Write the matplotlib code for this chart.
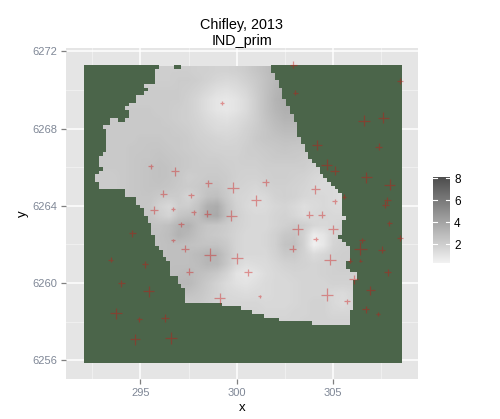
import numpy as np
import matplotlib
matplotlib.use('Agg')
import matplotlib.pyplot as plt
from matplotlib.colors import LinearSegmentedColormap, ListedColormap

plt.rcParams['font.family'] = ['Liberation Sans', 'DejaVu Sans']

# --- stations: position and size of each cross ---
pt_x = [299.21, 295.54, 296.77, 298.53, 299.81, 296.19, 297.62, 295.70, 296.70, 302.94,
        308.45, 303.03, 306.60, 307.60, 304.17, 307.36, 304.66, 305.07, 306.72, 307.93,
        301.49, 304.07, 305.56, 300.99, 305.07, 307.81, 307.70, 297.77, 298.48, 299.71,
        294.58, 297.10, 296.70, 297.31, 298.60, 300.01, 293.46, 295.24, 297.53, 294.01,
        295.42, 299.12, 293.75, 294.95, 296.28, 296.58, 294.72, 303.77, 304.40, 307.91,
        303.15, 304.99, 304.09, 306.51, 308.45, 302.89, 306.41, 307.51, 304.83, 305.85,
        306.41, 300.58, 307.82, 306.06, 306.93, 304.66, 305.72, 301.18, 306.68, 307.33]
pt_y = [6269.35, 6266.04, 6265.78, 6265.16, 6264.95, 6264.64, 6264.54, 6263.81, 6263.86, 6271.31,
        6270.48, 6269.86, 6268.42, 6268.57, 6267.17, 6267.07, 6266.14, 6265.83, 6265.47, 6265.10,
        6265.21, 6264.85, 6264.48, 6264.28, 6264.24, 6264.28, 6264.07, 6263.66, 6263.60, 6263.50,
        6262.57, 6263.04, 6262.21, 6261.79, 6261.48, 6261.28, 6261.22, 6260.97, 6260.60, 6259.98,
        6259.57, 6259.21, 6258.43, 6258.12, 6258.17, 6257.14, 6257.09, 6263.55, 6263.55, 6263.09,
        6262.78, 6262.78, 6262.27, 6262.21, 6262.36, 6261.79, 6261.79, 6261.74, 6261.22, 6261.17,
        6261.17, 6260.55, 6260.55, 6260.19, 6259.62, 6259.41, 6259.05, 6259.31, 6258.64, 6258.40]
pt_size = [1, 1.3, 2, 1.8, 2.8, 1.8, 1.3, 2, 1, 1.8,
           1.4, 1.3, 2.8, 2.8, 2.5, 1.8, 2.8, 2.4, 2.6, 2.8,
           1.8, 2.3, 1.2, 2.6, 1.2, 1.8, 1.8, 1.3, 1.8, 2.8,
           1.7, 1.3, 0.9, 1.8, 3, 2.8, 1.3, 1.6, 1.8, 1.7,
           2.7, 2.8, 2.9, 1.4, 2, 3, 2.7, 1.8, 1.8, 1.3,
           2.8, 2.3, 1.1, 1.4, 1.5, 1.8, 3.2, 1.6, 2.8, 1,
           0.8, 1.8, 1.6, 2.2, 2.2, 3, 1.3, 0.9, 1.6, 0.9]

# --- surface values (tenths) read on a 0.5 unit grid, x 292.5 to 306.5, y 6271 down to 6258 ---
surface_tenths = [
    [20, 20, 20, 20, 20, 20, 20, 20, 20, 20, 20, 19, 19, 18, 18, 19, 21, 24, 27, 30, 32, 32, 32, 32, 32, 32, 32, 32, 32],
    [20, 20, 20, 20, 20, 20, 20, 20, 20, 21, 21, 20, 18, 16, 15, 16, 19, 22, 26, 30, 33, 33, 33, 33, 33, 33, 33, 33, 33],
    [21, 21, 21, 21, 21, 21, 21, 21, 21, 21, 20, 18, 15, 12, 11, 13, 16, 21, 26, 31, 34, 34, 34, 34, 34, 34, 34, 34, 34],
    [21, 21, 21, 21, 21, 21, 21, 21, 21, 21, 19, 16, 12, 9, 8, 10, 14, 20, 26, 32, 35, 35, 35, 34, 34, 34, 34, 34, 34],
    [22, 22, 22, 22, 22, 22, 22, 21, 21, 20, 19, 16, 12, 9, 8, 10, 14, 20, 26, 31, 34, 34, 33, 32, 32, 32, 32, 32, 32],
    [22, 22, 22, 22, 22, 22, 22, 22, 21, 20, 19, 17, 14, 12, 11, 13, 16, 20, 25, 29, 32, 32, 31, 30, 30, 30, 30, 30, 30],
    [22, 22, 22, 22, 22, 22, 22, 22, 22, 21, 20, 18, 16, 14, 14, 15, 18, 21, 24, 27, 29, 29, 28, 28, 27, 27, 27, 27, 27],
    [22, 22, 22, 22, 22, 23, 23, 23, 22, 22, 21, 19, 18, 17, 16, 17, 19, 22, 24, 25, 26, 26, 25, 24, 23, 23, 23, 23, 23],
    [22, 22, 22, 22, 23, 23, 24, 24, 23, 22, 21, 20, 19, 18, 18, 18, 20, 21, 22, 23, 24, 23, 23, 22, 20, 20, 20, 20, 20],
    [22, 22, 22, 22, 23, 24, 24, 25, 24, 23, 22, 21, 20, 20, 19, 19, 20, 20, 21, 22, 22, 22, 21, 20, 19, 19, 19, 19, 19],
    [22, 22, 22, 22, 23, 24, 25, 26, 25, 23, 22, 21, 21, 21, 20, 19, 19, 19, 20, 20, 20, 20, 20, 18, 17, 17, 17, 17, 17],
    [21, 21, 21, 22, 23, 24, 25, 26, 25, 23, 20, 21, 22, 22, 21, 19, 18, 18, 19, 20, 20, 19, 18, 16, 15, 15, 15, 15, 15],
    [21, 21, 21, 22, 23, 24, 25, 25, 24, 22, 21, 22, 24, 24, 21, 18, 17, 16, 18, 19, 19, 18, 17, 15, 14, 14, 13, 13, 13],
    [21, 21, 21, 22, 23, 24, 24, 22, 21, 21, 17, 21, 26, 27, 22, 17, 16, 14, 15, 18, 19, 18, 16, 15, 15, 14, 12, 13, 14],
    [22, 22, 22, 22, 23, 24, 23, 18, 15, 20, 20, 25, 34, 36, 25, 18, 15, 13, 14, 16, 17, 15, 12, 14, 15, 14, 13, 14, 16],
    [22, 22, 22, 22, 23, 24, 24, 20, 17, 24, 26, 27, 36, 37, 26, 19, 16, 15, 15, 17, 18, 16, 13, 15, 16, 15, 15, 16, 18],
    [23, 23, 23, 23, 23, 24, 25, 25, 27, 32, 33, 27, 24, 23, 21, 18, 16, 15, 15, 17, 19, 21, 20, 16, 15, 16, 17, 18, 20],
    [25, 25, 25, 25, 25, 25, 26, 26, 28, 33, 30, 26, 23, 22, 20, 17, 15, 15, 16, 19, 23, 24, 18, 6, 9, 16, 18, 19, 20],
    [26, 26, 26, 26, 26, 26, 26, 26, 27, 27, 26, 25, 25, 25, 22, 17, 15, 15, 16, 19, 25, 26, 18, 4, 8, 17, 19, 20, 20],
    [26, 26, 26, 26, 26, 26, 26, 26, 27, 27, 27, 29, 32, 31, 24, 17, 15, 15, 15, 18, 22, 22, 18, 14, 16, 19, 20, 20, 21],
    [27, 27, 27, 27, 27, 27, 27, 27, 27, 27, 27, 28, 31, 30, 23, 15, 12, 13, 14, 16, 18, 19, 18, 17, 18, 19, 20, 20, 20],
    [27, 27, 27, 27, 27, 27, 27, 27, 27, 28, 29, 27, 25, 22, 17, 10, 8, 10, 13, 15, 16, 17, 17, 17, 18, 19, 19, 19, 19],
    [26, 26, 26, 26, 26, 26, 26, 26, 27, 30, 30, 26, 22, 18, 14, 11, 10, 12, 14, 15, 15, 16, 17, 17, 17, 18, 18, 18, 18],
    [24, 24, 24, 24, 24, 24, 24, 24, 25, 27, 26, 24, 21, 18, 15, 14, 13, 14, 14, 15, 15, 16, 17, 17, 17, 15, 14, 16, 17],
    [22, 22, 22, 22, 22, 22, 22, 22, 22, 22, 22, 22, 20, 18, 16, 16, 16, 16, 15, 15, 15, 16, 17, 18, 18, 15, 13, 16, 17],
    [20, 20, 20, 20, 20, 20, 20, 20, 20, 20, 20, 20, 19, 18, 17, 17, 17, 17, 16, 16, 16, 17, 17, 18, 18, 16, 16, 16, 17],
    [19, 19, 19, 19, 19, 19, 19, 19, 19, 19, 19, 19, 18, 18, 17, 17, 17, 17, 17, 17, 17, 17, 18, 18, 18, 18, 18, 18, 18],
]
grid_x = (292.5, 306.5)
grid_y = (6258.0, 6271.0)

# --- outside-area mask: raster is 85 x 79 cells, rows from the top ---
n_cols = 85
n_rows = 79
raster_x = (292.08, 308.53)
raster_y = (6255.86, 6271.24)
first_col = ([20] + [19] * 4 + [16, 17, 16] + [14] * 2 + [12, 11] + [12] * 2 + [7, 7, 5] + [6] * 6
             + [5] + [4] * 3 + [5, 4] + [3] * 2 + [4] * 2 + [11] * 2 + [14] * 2 + [15] + [16] * 2
             + [17] * 2 + [18] * 3 + [19] * 3 + [20] + [21] * 2 + [22] + [23] * 4 + [25] * 2 + [26]
             + [27] * 4 + [37, 42, 45, 48, 52, 61])
end_col = ([50] * 2 + [51] * 2 + [52] * 2 + [53] * 3 + [54] * 2 + [55] * 2 + [56] * 2 + [57] * 4
           + [58] * 2 + [59] * 2 + [60] * 2 + [61, 62] + [63] * 2 + [64, 65, 66, 67, 68] + [69] * 4
           + [69] * 2 + [70] + [69] * 4 + [68, 69, 70] + [71] * 4 + [70] * 2 + [71] + [73] * 2
           + [72] * 8 + [71] * 4)
mask_holes = [(0, 24), (0, 25), (14, 9), (14, 10)]

legend_ticks = [2, 4, 6, 8]

fig = plt.figure(figsize=(5, 4.19), dpi=100)
W, H = 500, 419
ax = fig.add_axes([66 / W, 1 - 378.7 / H, 352 / W, 331 / H])
ax.set_facecolor('#e5e5e5')

ax.set_xticks([295, 300, 305])
ax.set_yticks([6256, 6260, 6264, 6268, 6272])
ax.set_xticks([292.5, 297.5, 302.5, 307.5], minor=True)
ax.set_yticks([6258, 6262, 6266, 6270], minor=True)
ax.grid(True, which='major', color='white', lw=1.1)
ax.grid(True, which='minor', color='#f2f2f2', lw=0.6)
ax.set_axisbelow(True)
ax.tick_params(which='major', length=3.4, width=0.9, color='#7f7f7f', labelcolor='#7f8796', labelsize=8, pad=3)
ax.tick_params(which='minor', length=0)
for s in ax.spines.values():
    s.set_visible(False)

greys = LinearSegmentedColormap.from_list('greys', ['#f2f2f2', '#4d4d4d'])
surface = np.array(surface_tenths) / 10
im = ax.imshow(surface, cmap=greys, vmin=0.3, vmax=8.1, interpolation='bilinear', aspect='auto',
               extent=(grid_x[0] - 0.25, grid_x[1] + 0.25, grid_y[0] - 0.25, grid_y[1] + 0.24), zorder=1)

mask = np.ones((n_rows, n_cols))
for row, (a, b) in enumerate(zip(first_col, end_col)):
    mask[row, a:b] = 0
for row, col in mask_holes:
    mask[row, col] = 1
ax.imshow(np.ma.masked_equal(mask, 0), cmap=ListedColormap(['#4b654a']), interpolation='nearest', aspect='auto',
          extent=(raster_x[0], raster_x[1], raster_y[0], raster_y[1]), zorder=2)
ax.set_xlim(291.14, 309.40)
ax.set_ylim(6255.05, 6272.19)

ax.scatter(pt_x, pt_y, s=(2.9 * np.array(pt_size)) ** 2, marker='+', color='#d01010', alpha=0.4, linewidths=0.9, zorder=3)

ax.set_xlabel('x', fontsize=9.5, labelpad=3)
ax.set_ylabel('y', fontsize=9.5, labelpad=2)
ax.set_title('Chifley, 2013\nIND_prim', fontsize=10.4, pad=1.5, linespacing=1.2)

cax = fig.add_axes([433 / W, 1 - 263 / H, 17 / W, 86 / H])
cb = fig.colorbar(im, cax=cax, ticks=legend_ticks)
cb.outline.set_visible(False)
cax.tick_params(length=0, labelsize=8.5, pad=3, labelcolor='black')
for t in legend_ticks:
    cax.plot([0, 0.22], [t, t], color='white', lw=0.8, transform=cax.get_yaxis_transform())
    cax.plot([0.78, 1], [t, t], color='white', lw=0.8, transform=cax.get_yaxis_transform())

fig.savefig('out.png', dpi=100)
plt.close()
